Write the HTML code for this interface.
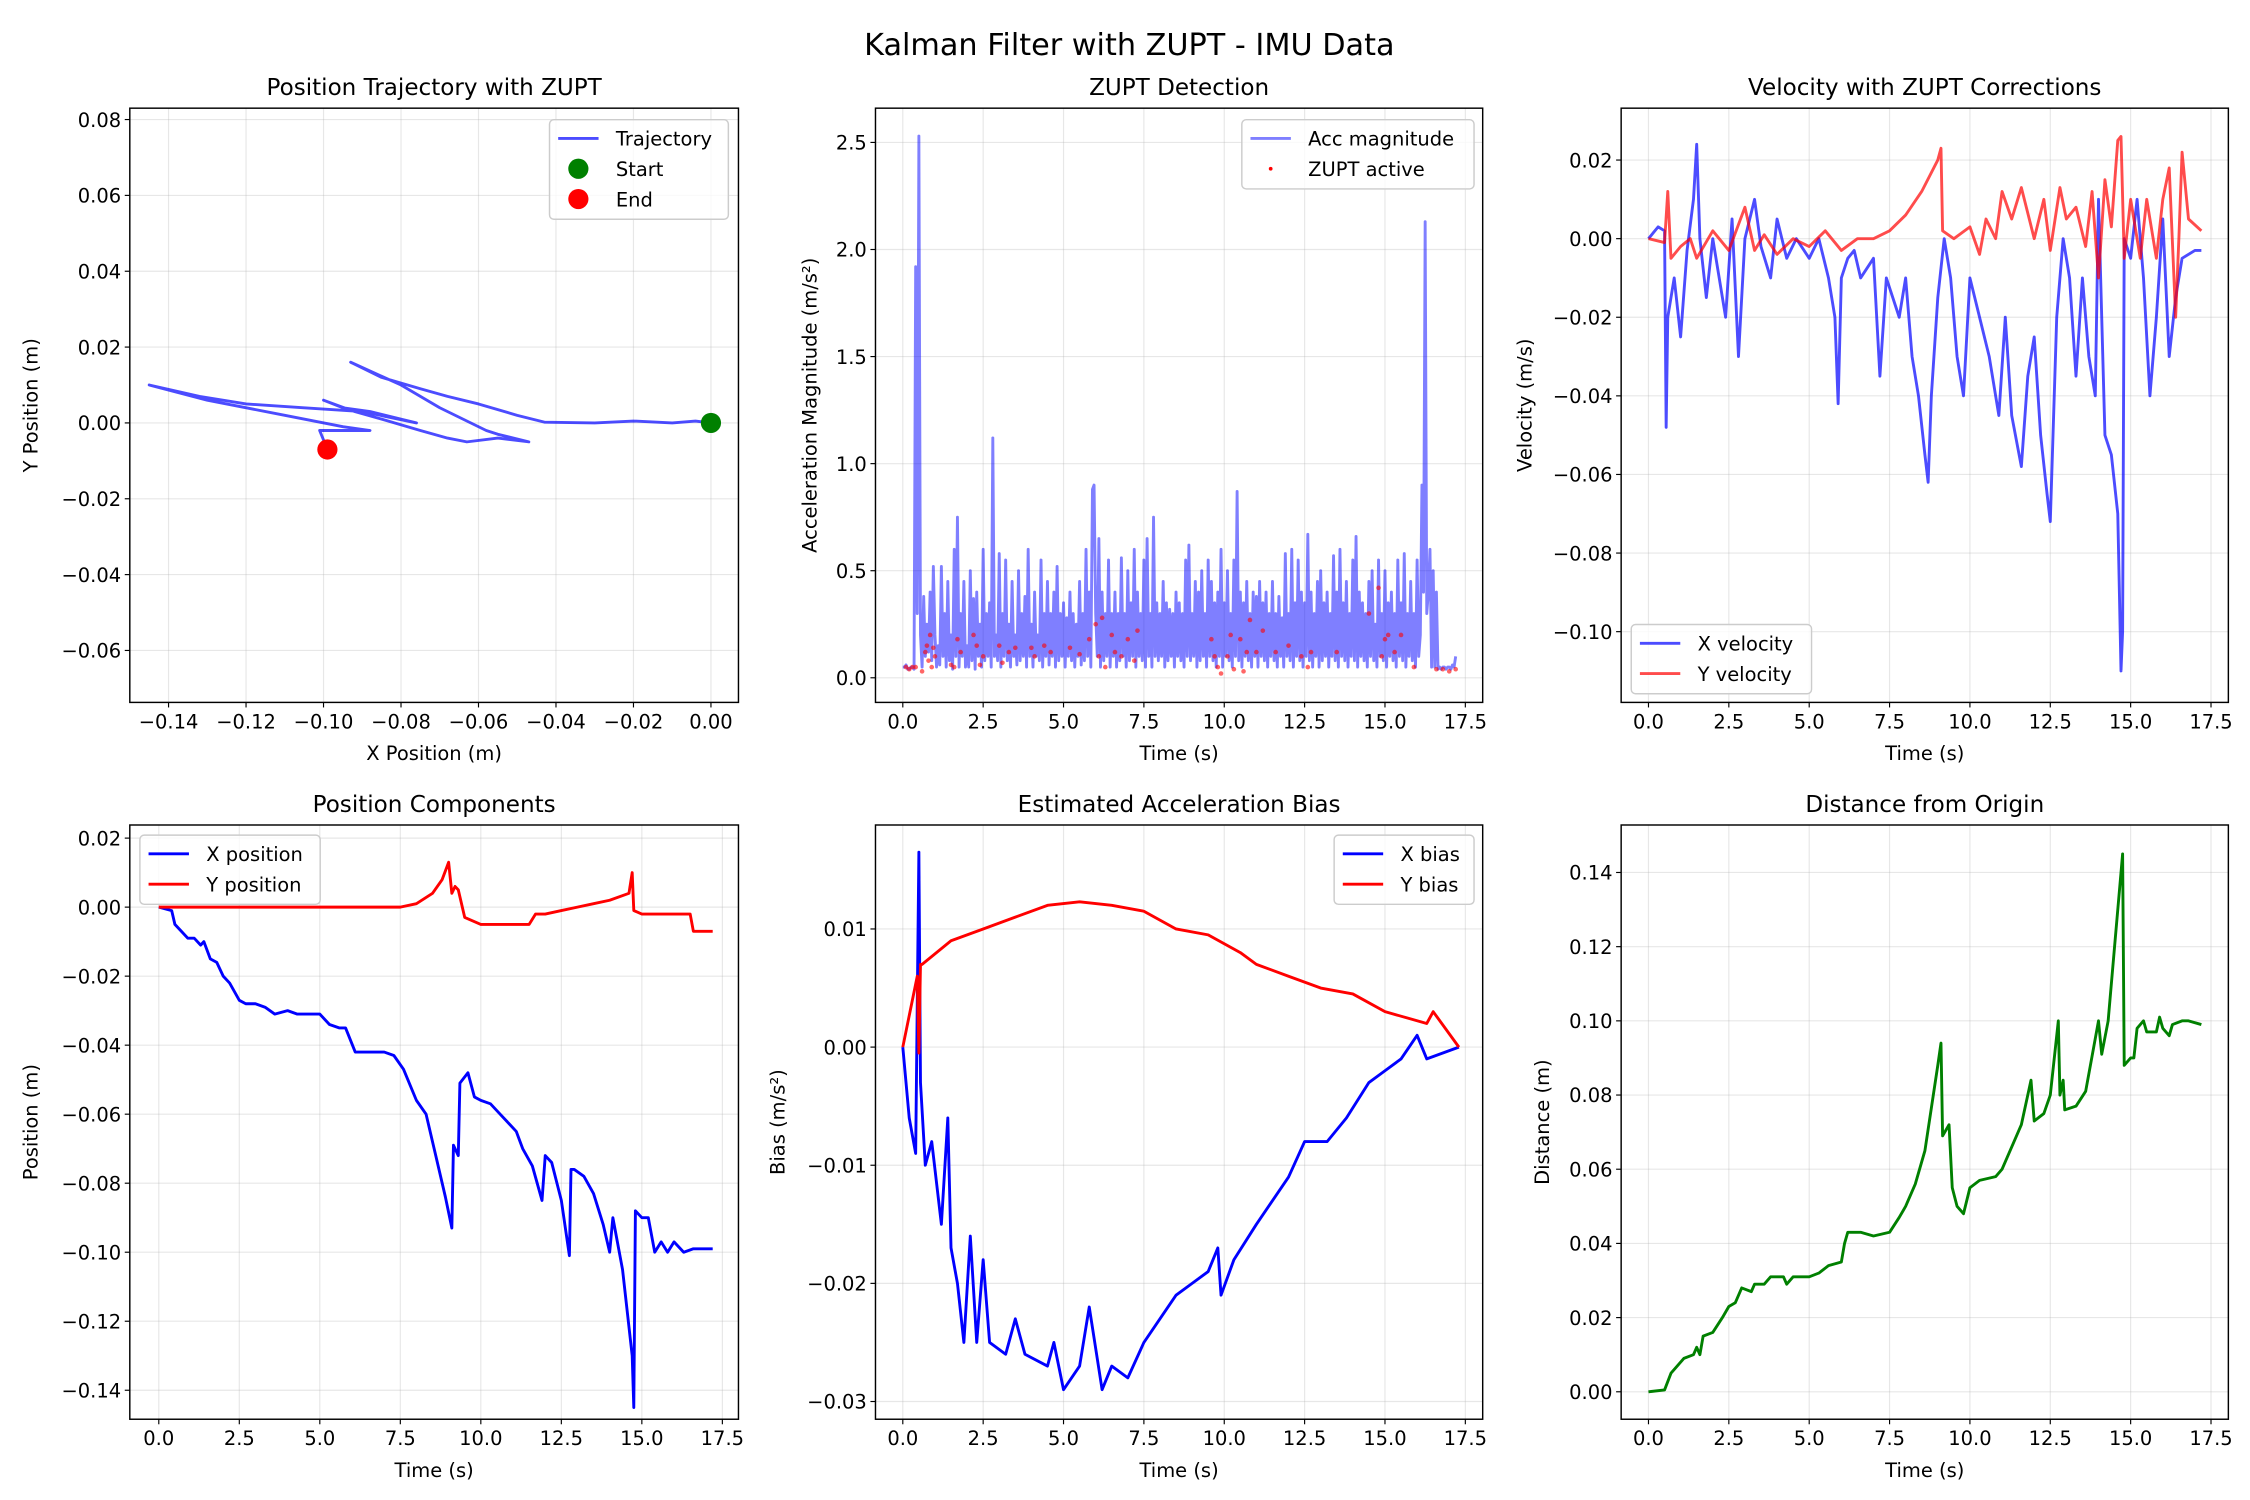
<!DOCTYPE html>
<html><head><meta charset="utf-8"><title>Kalman Filter with ZUPT - IMU Data</title>
<style>html,body{margin:0;padding:0;background:#fff}svg{display:block}text{font-family:"DejaVu Sans","Liberation Sans",sans-serif;fill:#000}</style>
</head><body>
<svg id="fig" xmlns="http://www.w3.org/2000/svg" width="2250" height="1500" viewBox="0 0 1560 1040">
<rect width="1560" height="1040" fill="#fff"/>
<text x="783" y="38" font-size="21" text-anchor="middle">Kalman Filter with ZUPT - IMU Data</text>
</svg>
<script>
// ---- data ----
const trajX = [0,-0.004,-0.01,-0.02,-0.03,-0.043,-0.05,-0.06,-0.068,-0.075,-0.085,-0.093,-0.08,-0.07,-0.058,-0.055,-0.047,-0.055,-0.063,-0.068,-0.075,-0.085,-0.092,-0.1,-0.095,-0.088,-0.08,-0.076,-0.09,-0.105,-0.12,-0.132,-0.145,-0.13,-0.11,-0.095,-0.088,-0.095,-0.101,-0.099];
const trajY = [0,0.0005,0.0,0.0005,0.0,0.0002,0.002,0.005,0.007,0.009,0.012,0.016,0.01,0.004,-0.002,-0.003,-0.005,-0.004,-0.005,-0.004,-0.002,0.001,0.003,0.006,0.004,0.003,0.001,0.0,0.003,0.004,0.005,0.007,0.01,0.006,0.002,-0.001,-0.002,-0.002,-0.002,-0.007];
const startPt = [0,0];
const endPt = [-0.099,-0.007];

const accT = [];
for (let i = 0; i <= 344; i++) accT.push(i * 0.05);
const accV = [
.05,.05,.06,.04,.04,.05,.05,.04,1.92,.3,2.53,.2,.05,.38,.1,.25,.12,.4,.08,.52,
.2,.05,.15,.06,.52,.1,.3,.05,.45,.08,.2,.04,.6,.1,.75,.05,.3,.1,.45,.05,
.15,.05,.5,.08,.37,.04,.4,.1,.25,.05,.6,.08,.3,.1,.35,.05,1.12,.1,.2,.08,
.58,.05,.3,.1,.55,.08,.25,.05,.45,.1,.2,.06,.5,.08,.3,.1,.38,.05,.6,.1,
.25,.05,.4,.1,.2,.08,.55,.05,.3,.1,.45,.06,.3,.1,.4,.05,.52,.08,.3,.1,
.35,.05,.28,.1,.4,.08,.3,.05,.25,.1,.45,.06,.3,.08,.6,.1,.4,.05,.88,.9,
.3,.1,.65,.05,.4,.08,.3,.1,.55,.05,.3,.1,.4,.05,.3,.08,.56,.1,.3,.05,
.5,.08,.35,.1,.6,.05,.4,.1,.3,.08,.55,.05,.65,.1,.3,.05,.75,.1,.35,.08,
.3,.1,.45,.05,.35,.08,.32,.1,.3,.05,.4,.1,.35,.08,.3,.05,.55,.1,.62,.08,
.3,.1,.45,.05,.4,.08,.5,.1,.3,.05,.55,.1,.45,.08,.35,.05,.4,.1,.6,.05,
.35,.1,.5,.08,.3,.05,.55,.1,.87,.08,.4,.05,.35,.1,.45,.08,.3,.05,.4,.1,
.38,.05,.45,.1,.35,.08,.4,.05,.3,.1,.45,.08,.3,.05,.38,.1,.28,.05,.58,.1,
.3,.08,.6,.05,.35,.1,.55,.08,.4,.05,.35,.1,.67,.08,.4,.05,.3,.1,.45,.05,
.5,.08,.35,.1,.4,.05,.3,.1,.57,.08,.4,.05,.6,.1,.35,.08,.45,.05,.3,.1,
.55,.08,.66,.05,.4,.1,.35,.08,.3,.05,.45,.1,.5,.08,.25,.05,.55,.1,.3,.08,
.5,.05,.35,.1,.4,.08,.3,.05,.55,.1,.35,.08,.58,.05,.3,.1,.45,.08,.3,.05,
.55,.1,.2,.9,.4,2.13,.3,.4,.6,.05,.5,.05,.4,.04,.05,.04,.05,.05,.04,.05,
.05,.04,.06,.05,.1];
const zuptT = [0.1,0.2,0.3,0.4,0.6,0.7,0.75,0.8,0.85,0.9,0.95,1.0,1.5,1.6,1.7,1.8,2.2,2.3,2.4,2.5,3.0,3.1,3.3,3.5,4.0,4.1,4.4,4.6,5.2,5.5,5.8,6.0,6.1,6.2,6.3,6.5,6.6,6.8,7.0,7.2,7.3,9.6,9.7,9.8,9.9,10.1,10.2,10.3,10.5,10.6,10.7,10.8,11.0,11.2,11.6,12.0,12.4,12.6,12.7,13.5,14.5,14.8,14.9,15.0,15.1,15.3,15.5,15.9,16.6,16.8,17.0,17.2];
const zuptV = [0.05,0.04,0.05,0.05,0.03,0.12,0.15,0.08,0.2,0.05,0.14,0.1,0.06,0.05,0.18,0.12,0.2,0.15,0.06,0.1,0.15,0.07,0.12,0.14,0.14,0.1,0.15,0.12,0.14,0.11,0.18,0.25,0.1,0.28,0.05,0.2,0.12,0.1,0.18,0.08,0.22,0.18,0.1,0.05,0.02,0.1,0.2,0.04,0.18,0.03,0.12,0.27,0.12,0.22,0.12,0.15,0.1,0.05,0.12,0.12,0.3,0.42,0.1,0.18,0.2,0.12,0.2,0.05,0.04,0.04,0.03,0.04];

const velT = [0,0.3,0.5,0.55,0.6,0.8,1.0,1.2,1.4,1.5,1.6,1.8,2.0,2.2,2.4,2.6,2.8,3.0,3.3,3.5,3.8,4.0,4.3,4.6,5.0,5.3,5.6,5.8,5.9,6.0,6.2,6.4,6.6,7.0,7.2,7.4,7.8,8.0,8.2,8.4,8.6,8.7,8.8,9.0,9.2,9.4,9.6,9.8,10.0,10.3,10.6,10.9,11.1,11.3,11.6,11.8,12.0,12.2,12.4,12.5,12.7,12.9,13.1,13.3,13.5,13.7,13.9,14.0,14.2,14.4,14.6,14.7,14.75,14.8,15.0,15.2,15.4,15.6,15.8,16.0,16.2,16.4,16.6,17.0,17.2];
const velX = [0,0.003,0.002,-0.048,-0.02,-0.01,-0.025,-0.003,0.01,0.024,0.0,-0.015,0.0,-0.01,-0.02,0.005,-0.03,0.0,0.01,-0.002,-0.01,0.005,-0.005,0.0,-0.005,0.0,-0.01,-0.02,-0.042,-0.01,-0.005,-0.003,-0.01,-0.005,-0.035,-0.01,-0.02,-0.01,-0.03,-0.04,-0.055,-0.062,-0.04,-0.015,0.0,-0.01,-0.03,-0.04,-0.01,-0.02,-0.03,-0.045,-0.02,-0.045,-0.058,-0.035,-0.025,-0.05,-0.065,-0.072,-0.02,0.0,-0.01,-0.035,-0.01,-0.03,-0.04,0.01,-0.05,-0.055,-0.07,-0.11,-0.1,0.0,-0.005,0.01,-0.01,-0.04,-0.02,0.005,-0.03,-0.015,-0.005,-0.003,-0.003];
const velYT = [0,0.5,0.6,0.7,1.0,1.3,1.5,2.0,2.5,3.0,3.3,3.6,4.0,4.5,5.0,5.5,6.0,6.5,7.0,7.5,8.0,8.5,9.0,9.1,9.15,9.5,10.0,10.3,10.5,10.8,11.0,11.3,11.6,12.0,12.3,12.5,12.8,13.0,13.3,13.6,13.8,14.0,14.2,14.4,14.6,14.7,14.8,15.0,15.3,15.5,15.8,16.0,16.2,16.4,16.5,16.6,16.8,17.2];
const velY = [0,-0.001,0.012,-0.005,-0.002,0.0,-0.005,0.002,-0.003,0.008,-0.003,0.001,-0.004,0.0,-0.002,0.002,-0.003,0.0,0.0,0.002,0.006,0.012,0.02,0.023,0.002,0.0,0.003,-0.004,0.005,0.0,0.012,0.005,0.013,0.0,0.01,-0.003,0.013,0.005,0.008,-0.002,0.012,-0.01,0.015,0.003,0.025,0.026,-0.005,0.01,-0.005,0.01,-0.005,0.01,0.018,-0.02,0.0,0.022,0.005,0.002];

const posT = [0,0.4,0.5,0.7,0.9,1.1,1.3,1.4,1.6,1.8,2.0,2.2,2.5,2.7,3.0,3.3,3.6,4.0,4.3,4.6,5.0,5.3,5.6,5.8,6.1,6.5,7.0,7.3,7.6,8.0,8.3,8.6,8.9,9.1,9.15,9.3,9.35,9.6,9.8,10.0,10.3,10.6,10.9,11.1,11.3,11.6,11.9,12.0,12.2,12.5,12.75,12.8,12.9,13.2,13.5,13.8,14.0,14.1,14.4,14.7,14.75,14.8,15.0,15.2,15.4,15.6,15.8,16.0,16.3,16.6,17.2];
const posX = [0,-0.001,-0.005,-0.007,-0.009,-0.009,-0.011,-0.010,-0.015,-0.016,-0.020,-0.022,-0.027,-0.028,-0.028,-0.029,-0.031,-0.030,-0.031,-0.031,-0.031,-0.034,-0.035,-0.035,-0.042,-0.042,-0.042,-0.043,-0.047,-0.056,-0.060,-0.072,-0.084,-0.093,-0.069,-0.072,-0.051,-0.048,-0.055,-0.056,-0.057,-0.060,-0.063,-0.065,-0.070,-0.075,-0.085,-0.072,-0.074,-0.085,-0.101,-0.076,-0.076,-0.078,-0.083,-0.092,-0.100,-0.090,-0.105,-0.130,-0.145,-0.088,-0.090,-0.090,-0.100,-0.097,-0.100,-0.097,-0.100,-0.099,-0.099];
const posYT = [0,1.0,2.0,3.0,4.0,5.0,6.0,7.0,7.5,8.0,8.5,8.8,9.0,9.1,9.2,9.3,9.5,10.0,10.5,11.0,11.5,11.7,12.0,12.5,13.0,13.5,14.0,14.6,14.7,14.75,15.0,16.0,16.5,16.6,17.2];
const posY = [0,0,0,0,0,0,0,0,0,0.001,0.004,0.008,0.013,0.004,0.006,0.005,-0.003,-0.005,-0.005,-0.005,-0.005,-0.002,-0.002,-0.001,0.0,0.001,0.002,0.004,0.010,-0.001,-0.002,-0.002,-0.002,-0.007,-0.007];

const biasXT = [0,0.2,0.4,0.5,0.55,0.7,0.9,1.2,1.4,1.5,1.7,1.9,2.1,2.3,2.5,2.7,3.2,3.5,3.8,4.5,4.7,5.0,5.5,5.8,6.2,6.5,7.0,7.5,8.0,8.5,9.0,9.5,9.8,9.9,10.3,11.0,11.5,12.0,12.5,13.2,13.8,14.5,15.0,15.5,16.0,16.3,17.3];
const biasX = [0,-0.006,-0.009,0.0165,-0.003,-0.010,-0.008,-0.015,-0.006,-0.017,-0.020,-0.025,-0.016,-0.025,-0.018,-0.025,-0.026,-0.023,-0.026,-0.027,-0.025,-0.029,-0.027,-0.022,-0.029,-0.027,-0.028,-0.025,-0.023,-0.021,-0.020,-0.019,-0.017,-0.021,-0.018,-0.015,-0.013,-0.011,-0.008,-0.008,-0.006,-0.003,-0.002,-0.001,0.001,-0.001,0];
const biasYT = [0,0.3,0.45,0.5,0.55,0.6,1.5,2.5,3.5,4.5,5.5,6.5,7.5,8.5,9.5,10.5,11.0,12.0,13.0,14.0,15.0,16.3,16.5,17.3];
const biasY = [0,0.004,0.006,-0.0005,0.007,0.007,0.009,0.010,0.011,0.012,0.0123,0.012,0.0115,0.010,0.0095,0.008,0.007,0.006,0.005,0.0045,0.003,0.002,0.003,0];

const distT = [0,0.5,0.7,0.9,1.1,1.4,1.5,1.6,1.7,2.0,2.3,2.5,2.7,2.9,3.2,3.3,3.6,3.8,4.2,4.3,4.5,5.0,5.3,5.6,6.0,6.1,6.2,6.6,7.0,7.5,7.8,8.0,8.3,8.6,9.0,9.1,9.15,9.35,9.45,9.6,9.8,10.0,10.3,10.8,11.0,11.3,11.6,11.9,12.0,12.3,12.5,12.75,12.8,12.9,12.95,13.3,13.6,14.0,14.1,14.3,14.5,14.75,14.8,15.0,15.1,15.2,15.4,15.5,15.8,15.9,16.0,16.2,16.3,16.6,16.8,17.2];
const dist = [0,0.0005,0.005,0.007,0.009,0.01,0.012,0.01,0.015,0.016,0.02,0.023,0.024,0.028,0.027,0.029,0.029,0.031,0.031,0.029,0.031,0.031,0.032,0.034,0.035,0.04,0.043,0.043,0.042,0.043,0.047,0.05,0.056,0.065,0.088,0.094,0.069,0.072,0.055,0.05,0.048,0.055,0.057,0.058,0.06,0.066,0.072,0.084,0.073,0.075,0.08,0.1,0.08,0.084,0.076,0.077,0.081,0.1,0.091,0.1,0.12,0.145,0.088,0.09,0.09,0.098,0.1,0.097,0.097,0.101,0.098,0.096,0.099,0.1,0.1,0.099];

// ---- drawing helpers ----
const NS = 'http://www.w3.org/2000/svg';
const svg = document.getElementById('fig');
function mk(tag, attrs, parent) {
  const e = document.createElementNS(NS, tag);
  for (const k in attrs) e.setAttribute(k, attrs[k]);
  (parent || svg).appendChild(e);
  return e;
}
function fmt(v, d) { const s = Math.abs(v) < 1e-12 ? (0).toFixed(d) : v.toFixed(d); return s.replace('-', '\u2212'); }
function ticksFrom(a, b, step) { const r = []; for (let v = a; v <= b + step / 1000; v += step) r.push(+v.toFixed(6)); return r; }

function makeAxes(o) {
  const g = mk('g', {});
  
  
  const sx = v => o.x0 + (v - o.xmin) / (o.xmax - o.xmin) * (o.x1 - o.x0);
  const sy = v => o.y1 - (v - o.ymin) / (o.ymax - o.ymin) * (o.y1 - o.y0);
  o.xticks.forEach(t => {
    const X = sx(t);
    const gl = mk('line', {x1: X, x2: X, y1: o.y0, y2: o.y1, stroke: '#b0b0b0', 'stroke-opacity': 0.3, 'stroke-width': 0.8}, g);
    
    
    const tk = mk('line', {x1: X, x2: X, y1: o.y1, y2: o.y1 + 3.5, stroke: '#000', 'stroke-width': 0.8}, g);
    
    
    const tl = mk('text', {x: X, y: o.y1 + 18, 'font-size': 13.5, 'text-anchor': 'middle'}, g);
    tl.textContent = fmt(t, o.xd);
    
    
  });
  o.yticks.forEach(t => {
    const Y = sy(t);
    const gl = mk('line', {x1: o.x0, x2: o.x1, y1: Y, y2: Y, stroke: '#b0b0b0', 'stroke-opacity': 0.3, 'stroke-width': 0.8}, g);
    
    
    const tk = mk('line', {x1: o.x0 - 3.5, x2: o.x0, y1: Y, y2: Y, stroke: '#000', 'stroke-width': 0.8}, g);
    
    
    const tl = mk('text', {x: o.x0 - 6, y: Y + 5, 'font-size': 13.5, 'text-anchor': 'end'}, g);
    tl.textContent = fmt(t, o.yd);
    
    
  });
  const cp = mk('clipPath', {id: 'clip-' + o.name}, g);
  mk('rect', {x: o.x0, y: o.y0, width: o.x1 - o.x0, height: o.y1 - o.y0}, cp);
  const plot = mk('g', {'clip-path': 'url(#clip-' + o.name + ')'}, g);
  
  
  const fr = mk('rect', {x: o.x0, y: o.y0, width: o.x1 - o.x0, height: o.y1 - o.y0, fill: 'none', stroke: '#000', 'stroke-width': 1}, g);
  
  
  const ti = mk('text', {x: (o.x0 + o.x1) / 2, y: o.y0 - 9, 'font-size': 16, 'text-anchor': 'middle'}, g);
  ti.textContent = o.title;
  
  
  const xl = mk('text', {x: (o.x0 + o.x1) / 2, y: o.y1 + 40, 'font-size': 13.5, 'text-anchor': 'middle'}, g);
  xl.textContent = o.xlabel;
  
  
  const yl = mk('text', {x: 0, y: 0, 'font-size': 13.5, 'text-anchor': 'middle', transform: 'translate(' + o.ylx + ',' + (o.y0 + o.y1) / 2 + ') rotate(-90)'}, g);
  yl.textContent = o.ylabel;
  
  
  return {g, plot, sx, sy, o};
}
function line(ax, xs, ys, color, op, name) {
  const d = xs.map((x, i) => (i ? 'L' : 'M') + ax.sx(x).toFixed(2) + ',' + ax.sy(ys[i]).toFixed(2)).join('');
  const p = mk('path', {d, fill: 'none', stroke: color, 'stroke-opacity': op, 'stroke-width': 2, 'stroke-linejoin': 'round'}, ax.plot);
  
  
  return p;
}
function legend(ax, x, y, w, entries) {
  const h = entries.length * 21 + 6;
  const lg = mk('g', {}, ax.g);
  
  
  mk('rect', {x, y, width: w, height: h, rx: 3, fill: '#fff', 'fill-opacity': 0.8, stroke: '#ccc', 'stroke-width': 1}, lg);
  entries.forEach((e, i) => {
    const cy = y + 13 + i * 21;
    const eg = mk('g', {}, lg);
    
    
    if (e.type === 'line') mk('line', {x1: x + 6, x2: x + 34, y1: cy, y2: cy, stroke: e.color, 'stroke-opacity': e.op, 'stroke-width': 2}, eg);
    else if (e.type === 'big') mk('circle', {cx: x + 20, cy, r: 7, fill: e.color}, eg);
    else mk('circle', {cx: x + 20, cy, r: 1.3, fill: e.color}, eg);
    const t = mk('text', {x: x + 46, y: cy + 5, 'font-size': 13.5}, eg);
    t.textContent = e.label;
  });
}

const colL = [90, 512], colM = [607, 1028], colR = [1124, 1545];
const rowT = [75, 487], rowB = [572, 984];

// Panel 1
const a1 = makeAxes({name: 'trajectory-panel', x0: colL[0], x1: colL[1], y0: rowT[0], y1: rowT[1], xmin: -0.150, xmax: 0.0071, ymin: -0.0737, ymax: 0.083,
  xticks: ticksFrom(-0.14, 0, 0.02), yticks: ticksFrom(-0.06, 0.08, 0.02), xd: 2, yd: 2,
  title: 'Position Trajectory with ZUPT', xlabel: 'X Position (m)', ylabel: 'Y Position (m)', ylx: 26});
line(a1, trajX, trajY, '#0000ff', 0.7, 'trajectory-line');
const sp = mk('circle', {cx: a1.sx(startPt[0]), cy: a1.sy(startPt[1]), r: 7, fill: 'green'}, a1.g);


const ep = mk('circle', {cx: a1.sx(endPt[0]), cy: a1.sy(endPt[1]), r: 7, fill: 'red'}, a1.g);


legend(a1, 381, 83, 124, [{type: 'line', color: '#0000ff', op: 0.7, label: 'Trajectory'}, {type: 'big', color: 'green', label: 'Start'}, {type: 'big', color: 'red', label: 'End'}]);

// Panel 2
const a2 = makeAxes({name: 'zupt-detection-panel', x0: colM[0], x1: colM[1], y0: rowT[0], y1: rowT[1], xmin: -0.85, xmax: 18.04, ymin: -0.115, ymax: 2.66,
  xticks: ticksFrom(0, 17.5, 2.5), yticks: ticksFrom(0, 2.5, 0.5), xd: 1, yd: 1,
  title: 'ZUPT Detection', xlabel: 'Time (s)', ylabel: 'Acceleration Magnitude (m/s\u00b2)', ylx: 566});
line(a2, accT, accV, '#0000ff', 0.5, 'acc-magnitude-line');
zuptT.forEach((t, i) => {
  const c = mk('circle', {cx: a2.sx(t), cy: a2.sy(zuptV[i]), r: 1.6, fill: '#ff0000', 'fill-opacity': 0.6}, a2.plot);
  
  
});
legend(a2, 861, 83, 161, [{type: 'line', color: '#0000ff', op: 0.5, label: 'Acc magnitude'}, {type: 'dot', color: 'red', label: 'ZUPT active'}]);

// Panel 3
const a3 = makeAxes({name: 'velocity-panel', x0: colR[0], x1: colR[1], y0: rowT[0], y1: rowT[1], xmin: -0.85, xmax: 18.04, ymin: -0.118, ymax: 0.0332,
  xticks: ticksFrom(0, 17.5, 2.5), yticks: ticksFrom(-0.10, 0.02, 0.02), xd: 1, yd: 2,
  title: 'Velocity with ZUPT Corrections', xlabel: 'Time (s)', ylabel: 'Velocity (m/s)', ylx: 1062});
line(a3, velT, velX, '#0000ff', 0.7, 'x-velocity-line');
line(a3, velYT, velY, '#ff0000', 0.7, 'y-velocity-line');
legend(a3, 1131, 433, 125, [{type: 'line', color: '#0000ff', op: 0.7, label: 'X velocity'}, {type: 'line', color: '#ff0000', op: 0.7, label: 'Y velocity'}]);

// Panel 4
const a4 = makeAxes({name: 'position-components-panel', x0: colL[0], x1: colL[1], y0: rowB[0], y1: rowB[1], xmin: -0.9, xmax: 18.0, ymin: -0.1484, ymax: 0.0238,
  xticks: ticksFrom(0, 17.5, 2.5), yticks: ticksFrom(-0.14, 0.02, 0.02), xd: 1, yd: 2,
  title: 'Position Components', xlabel: 'Time (s)', ylabel: 'Position (m)', ylx: 26});
line(a4, posT, posX, '#0000ff', 1, 'x-position-line');
line(a4, posYT, posY, '#ff0000', 1, 'y-position-line');
legend(a4, 97, 579, 125, [{type: 'line', color: '#0000ff', op: 1, label: 'X position'}, {type: 'line', color: '#ff0000', op: 1, label: 'Y position'}]);

// Panel 5
const a5 = makeAxes({name: 'acceleration-bias-panel', x0: colM[0], x1: colM[1], y0: rowB[0], y1: rowB[1], xmin: -0.85, xmax: 18.04, ymin: -0.0315, ymax: 0.0188,
  xticks: ticksFrom(0, 17.5, 2.5), yticks: ticksFrom(-0.03, 0.01, 0.01), xd: 1, yd: 2,
  title: 'Estimated Acceleration Bias', xlabel: 'Time (s)', ylabel: 'Bias (m/s\u00b2)', ylx: 544});
line(a5, biasXT, biasX, '#0000ff', 1, 'x-bias-line');
line(a5, biasYT, biasY, '#ff0000', 1, 'y-bias-line');
legend(a5, 925, 579, 97, [{type: 'line', color: '#0000ff', op: 1, label: 'X bias'}, {type: 'line', color: '#ff0000', op: 1, label: 'Y bias'}]);

// Panel 6
const a6 = makeAxes({name: 'distance-panel', x0: colR[0], x1: colR[1], y0: rowB[0], y1: rowB[1], xmin: -0.85, xmax: 18.04, ymin: -0.0074, ymax: 0.1528,
  xticks: ticksFrom(0, 17.5, 2.5), yticks: ticksFrom(0, 0.14, 0.02), xd: 1, yd: 2,
  title: 'Distance from Origin', xlabel: 'Time (s)', ylabel: 'Distance (m)', ylx: 1074});
line(a6, distT, dist, 'green', 1, 'distance-line');
</script>
</body></html>
